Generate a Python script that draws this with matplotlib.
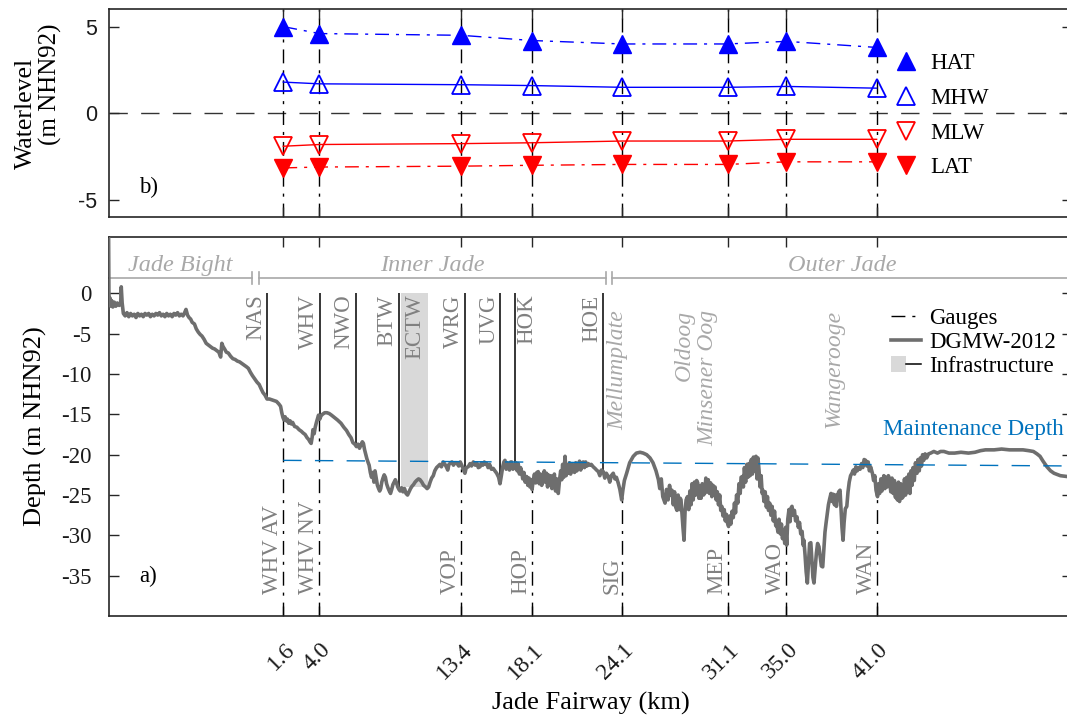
import matplotlib
matplotlib.use("Agg")
import matplotlib.pyplot as plt
import matplotlib.transforms as mtrans
from matplotlib.lines import Line2D
from matplotlib.patches import Patch
from matplotlib.legend_handler import HandlerTuple

plt.rcParams['font.family'] = ['Liberation Serif', 'DejaVu Serif']

# ---------------- data ----------------
gauge_km = [1.6, 4.0, 13.4, 18.1, 24.1, 31.1, 35.0, 41.0]
gauge_tick_labels = ["1.6", "4.0", "13.4", "18.1", "24.1", "31.1", "35.0", "41.0"]
gauge_names = ["WHV AV", "WHV NV", "VOP", "HOP", "SIG", "MEP", "WAO", "WAN"]
gauge_bed = [-15.5, -15.4, -21.5, -24.0, -25.4, -28.5, -30.8, -25.0]

hat = [5.0, 4.6, 4.5, 4.2, 4.0, 4.0, 4.15, 3.8]
mhw = [1.8, 1.7, 1.65, 1.6, 1.5, 1.5, 1.55, 1.45]
mlw = [-1.9, -1.8, -1.75, -1.7, -1.6, -1.6, -1.5, -1.5]
lat = [-3.15, -3.1, -3.05, -3.0, -2.95, -2.95, -2.8, -2.8]
tide_names = ["HAT", "MHW", "MLW", "LAT"]

infra_names = ["NAS", "WHV", "NWO", "BTW", "WRG", "UVG", "HOK", "HOE"]
infra_km = [0.51, 4.05, 6.41, 9.27, 13.67, 16.0, 16.99, 22.85]
infra_bed = [-13.0, -15.2, -19.0, -24.0, -21.7, -23.6, -21.5, -22.2]
ectw_name = "ECTW"
ectw_km = [9.43, 11.21]
ectw_bed = -24.0

maint_km = [1.6, 54.0]
maint_depth = [-20.7, -21.4]

region_names = ["Jade Bight", "Inner Jade", "Outer Jade"]
region_start = [-10.0, 0.0, 23.4]
region_end = [-0.45, 23.0, 54.0]
region_level = 1.9

island_names = ["Mellumplate", "Oldoog\nMinsener Oog", "Wangerooge"]
island_km = [23.82, 29.0, 38.16]

# DGMW-2012 depth profile along the fairway (km, m NHN92)
profile = [
    (-10.00, 7.0), (-9.98, 0.2), (-9.95, -1.5), (-9.90, -0.6), (-9.85, -1.6), (-9.80, -0.9),
    (-9.72, -1.7), (-9.62, -1.1), (-9.52, -1.6), (-9.42, -1.2), (-9.30, -1.5), (-9.20, -1.3),
    (-9.16, 0.8), (-9.10, -1.2), (-9.02, -2.5), (-8.90, -2.8), (-8.78, -2.4), (-8.66, -2.9),
    (-8.54, -2.5), (-8.42, -2.8), (-8.30, -2.6), (-8.18, -3.0), (-8.06, -2.5), (-7.94, -2.8),
    (-7.82, -2.6), (-7.70, -2.9), (-7.58, -2.5), (-7.46, -2.7), (-7.34, -2.5), (-7.22, -2.9),
    (-7.10, -2.6), (-6.98, -2.8), (-6.86, -2.5), (-6.74, -2.7), (-6.62, -2.4), (-6.50, -2.8),
    (-6.38, -2.6), (-6.26, -2.9), (-6.14, -2.5), (-6.02, -2.8), (-5.90, -2.6), (-5.78, -2.9),
    (-5.66, -2.5), (-5.54, -2.7), (-5.42, -2.4), (-5.30, -2.8), (-5.18, -2.6), (-5.06, -2.8),
    (-4.95, -2.4), (-4.86, -2.0), (-4.76, -2.7), (-4.66, -3.0), (-4.55, -3.2), (-4.45, -3.6),
    (-4.30, -3.8), (-4.18, -4.4), (-4.05, -4.8), (-3.92, -5.1), (-3.80, -5.3), (-3.66, -5.7),
    (-3.52, -6.2), (-3.38, -6.4), (-3.24, -6.6), (-3.10, -6.8), (-2.96, -6.9), (-2.82, -7.1),
    (-2.68, -7.3), (-2.56, -7.9), (-2.48, -6.2), (-2.40, -6.6), (-2.30, -6.9), (-2.18, -7.3),
    (-2.05, -7.4), (-1.90, -7.8), (-1.75, -8.1), (-1.60, -8.2), (-1.45, -8.4), (-1.30, -8.5),
    (-1.15, -8.7), (-1.00, -8.9), (-0.85, -9.1), (-0.72, -9.3), (-0.58, -9.8), (-0.45, -10.2),
    (-0.30, -10.6), (-0.15, -11.0), (0.00, -11.3), (0.12, -11.8), (0.25, -12.3), (0.38, -12.6),
    (0.52, -13.1), (0.68, -13.1), (0.84, -13.2), (1.00, -13.3), (1.15, -13.4), (1.30, -13.7),
    (1.42, -14.0), (1.50, -14.8), (1.58, -15.4), (1.65, -15.7), (1.72, -15.3), (1.80, -15.8),
    (1.88, -15.6), (1.96, -16.1), (2.05, -15.8), (2.14, -16.2), (2.22, -16.0), (2.35, -16.5),
    (2.50, -16.6), (2.65, -16.9), (2.80, -17.1), (2.91, -17.3), (3.05, -17.5), (3.18, -17.9),
    (3.28, -18.1), (3.37, -18.4), (3.45, -18.6), (3.52, -17.8), (3.57, -16.9), (3.65, -17.4),
    (3.72, -16.6), (3.80, -16.0), (3.88, -15.5), (3.94, -15.1), (4.02, -15.6), (4.10, -15.2),
    (4.20, -15.0), (4.35, -14.8), (4.50, -14.8), (4.65, -14.9), (4.80, -15.1), (5.00, -15.4),
    (5.20, -15.7), (5.43, -16.1), (5.62, -16.6), (5.80, -17.0), (5.95, -17.5), (6.10, -17.9),
    (6.22, -18.5), (6.35, -18.7), (6.46, -19.0), (6.56, -18.7), (6.66, -19.2), (6.75, -18.8),
    (6.85, -18.4), (6.92, -18.6), (7.00, -19.4), (7.08, -20.0), (7.15, -20.5), (7.22, -20.9),
    (7.30, -21.3), (7.38, -22.2), (7.46, -22.8), (7.54, -22.2), (7.62, -23.4), (7.69, -22.0),
    (7.77, -22.9), (7.85, -23.8), (7.93, -24.2), (8.00, -24.5), (8.07, -24.2), (8.14, -23.4),
    (8.22, -22.9), (8.30, -22.5), (8.38, -22.8), (8.46, -23.6), (8.55, -24.1), (8.64, -24.5),
    (8.72, -24.8), (8.80, -24.3), (8.88, -23.7), (8.96, -23.4), (9.04, -23.1), (9.12, -23.5),
    (9.20, -24.0), (9.28, -24.3), (9.36, -24.5), (9.45, -24.1), (9.55, -24.6), (9.65, -24.2),
    (9.75, -24.8), (9.85, -25.0), (9.95, -24.6), (10.05, -24.2), (10.15, -23.9), (10.25, -23.7),
    (10.35, -23.4), (10.45, -23.2), (10.58, -23.0), (10.68, -23.1), (10.80, -23.4), (10.92, -23.8),
    (11.05, -24.0), (11.15, -24.2), (11.25, -24.0), (11.35, -23.4), (11.45, -22.9), (11.56, -22.6),
    (11.66, -22.0), (11.78, -21.6), (11.89, -21.4), (12.00, -21.2), (12.10, -21.5), (12.22, -20.9),
    (12.34, -21.2), (12.45, -21.6), (12.52, -21.9), (12.60, -21.2), (12.67, -21.1), (12.80, -20.9),
    (12.90, -21.3), (13.00, -21.0), (13.11, -21.0), (13.25, -21.4), (13.35, -20.9), (13.45, -21.3),
    (13.55, -21.8), (13.66, -22.3), (13.75, -21.6), (13.88, -21.5), (14.00, -21.1), (14.10, -21.4),
    (14.22, -20.9), (14.35, -21.3), (14.45, -21.0), (14.55, -21.6), (14.66, -21.5), (14.75, -21.0),
    (14.85, -21.3), (14.95, -20.9), (15.05, -21.2), (15.11, -21.1), (15.20, -21.6), (15.30, -21.2),
    (15.42, -21.8), (15.54, -21.7), (15.65, -22.0), (15.77, -22.3), (15.90, -22.8), (15.99, -23.6),
    (16.08, -22.6), (16.17, -21.5), (16.25, -20.9), (16.32, -20.7), (16.40, -21.8), (16.47, -21.0),
    (16.54, -21.5), (16.62, -21.9), (16.70, -20.9), (16.77, -20.9), (16.85, -21.8), (16.92, -21.3),
    (16.99, -21.7), (17.06, -21.0), (17.13, -22.0), (17.20, -21.1), (17.28, -22.4), (17.36, -21.6),
    (17.43, -22.1), (17.50, -23.0), (17.58, -22.2), (17.66, -23.4), (17.76, -22.7), (17.84, -23.8),
    (17.92, -22.9), (17.98, -24.0), (18.05, -23.1), (18.12, -24.3), (18.20, -23.1), (18.28, -22.4),
    (18.36, -23.5), (18.44, -22.2), (18.53, -22.1), (18.60, -23.6), (18.68, -22.4), (18.76, -23.8),
    (18.86, -23.1), (18.93, -22.0), (19.00, -23.4), (19.08, -22.3), (19.15, -24.0), (19.20, -22.5),
    (19.28, -23.8), (19.36, -22.6), (19.44, -24.2), (19.53, -23.5), (19.60, -22.4), (19.68, -24.5),
    (19.76, -23.0), (19.86, -24.8), (19.94, -23.2), (20.02, -22.0), (20.09, -23.1), (20.15, -21.2),
    (20.22, -22.8), (20.31, -20.2), (20.38, -22.6), (20.45, -21.4), (20.52, -22.3), (20.60, -21.0),
    (20.68, -22.4), (20.76, -21.2), (20.86, -21.3), (20.94, -22.2), (21.02, -21.0), (21.10, -22.0),
    (21.19, -21.5), (21.27, -20.8), (21.35, -21.9), (21.43, -21.0), (21.52, -20.9), (21.60, -21.6),
    (21.68, -20.9), (21.77, -21.4), (21.85, -21.1), (21.95, -21.3), (22.05, -21.2), (22.18, -21.5),
    (22.30, -21.7), (22.40, -21.9), (22.52, -22.1), (22.62, -22.6), (22.72, -21.9), (22.85, -22.1),
    (22.95, -22.9), (23.05, -22.3), (23.18, -22.7), (23.28, -23.4), (23.38, -22.6), (23.51, -22.3),
    (23.62, -23.0), (23.72, -22.8), (23.84, -23.5), (23.95, -24.3), (24.07, -25.6), (24.15, -24.4),
    (24.25, -23.2), (24.40, -22.3), (24.60, -21.0), (24.84, -20.2), (25.05, -19.8), (25.29, -19.7),
    (25.50, -19.8), (25.73, -20.0), (25.95, -20.4), (26.15, -21.0), (26.35, -22.0), (26.51, -23.1),
    (26.60, -24.2), (26.70, -23.0), (26.80, -25.2), (26.95, -26.0), (27.05, -24.3), (27.15, -25.6),
    (27.25, -23.8), (27.33, -25.0), (27.41, -24.4), (27.50, -26.2), (27.58, -24.6), (27.66, -26.5),
    (27.74, -26.9), (27.82, -25.0), (27.90, -26.8), (27.96, -25.4), (28.01, -25.6), (28.08, -27.5),
    (28.14, -29.0), (28.21, -30.6), (28.28, -27.0), (28.35, -25.6), (28.44, -25.2), (28.52, -26.8),
    (28.60, -24.5), (28.68, -26.2), (28.74, -23.6), (28.82, -25.6), (28.90, -23.4), (28.98, -25.0),
    (29.05, -23.2), (29.12, -23.5), (29.20, -25.4), (29.28, -23.9), (29.34, -25.4), (29.42, -23.6),
    (29.50, -25.0), (29.58, -24.8), (29.66, -22.9), (29.74, -24.6), (29.82, -23.1), (29.90, -24.8),
    (29.98, -23.5), (30.06, -25.2), (30.14, -23.8), (30.20, -24.9), (30.27, -24.0), (30.35, -25.6),
    (30.42, -24.6), (30.50, -26.2), (30.58, -25.0), (30.65, -26.9), (30.72, -26.4), (30.80, -27.6),
    (30.88, -26.8), (30.95, -28.2), (31.03, -27.4), (31.10, -28.5), (31.17, -28.9), (31.25, -27.6),
    (31.32, -28.6), (31.40, -27.0), (31.48, -27.8), (31.56, -26.0), (31.63, -27.2), (31.70, -25.0),
    (31.78, -26.0), (31.86, -23.6), (31.94, -24.8), (32.00, -22.8), (32.08, -22.7), (32.15, -24.0),
    (32.22, -21.6), (32.30, -23.4), (32.38, -21.2), (32.45, -22.8), (32.52, -21.1), (32.60, -22.6),
    (32.68, -20.6), (32.75, -22.4), (32.82, -20.3), (32.90, -22.0), (32.99, -20.2), (33.06, -23.0),
    (33.12, -20.4), (33.19, -21.9), (33.26, -24.0), (33.33, -22.6), (33.40, -24.8), (33.45, -24.4),
    (33.52, -25.8), (33.60, -24.6), (33.68, -26.5), (33.75, -25.2), (33.82, -26.9), (33.90, -26.0),
    (33.98, -27.5), (34.06, -26.4), (34.14, -28.2), (34.22, -27.0), (34.30, -28.8), (34.36, -28.5),
    (34.45, -29.6), (34.52, -28.0), (34.60, -29.8), (34.68, -28.6), (34.75, -30.4), (34.81, -29.3),
    (34.90, -31.0), (34.96, -29.0), (35.03, -31.2), (35.10, -28.0), (35.18, -26.8), (35.25, -28.3),
    (35.32, -26.6), (35.38, -26.4), (35.46, -27.5), (35.54, -26.9), (35.62, -28.2), (35.71, -27.7),
    (35.80, -29.0), (35.88, -28.4), (35.96, -29.8), (36.05, -29.5), (36.12, -31.2), (36.17, -30.6),
    (36.25, -32.5), (36.32, -34.5), (36.40, -35.9), (36.48, -33.2), (36.55, -31.0), (36.63, -30.9),
    (36.70, -33.0), (36.77, -35.2), (36.84, -35.9), (36.92, -34.0), (37.00, -32.2), (37.08, -31.0),
    (37.17, -31.4), (37.25, -32.6), (37.33, -33.8), (37.42, -33.9), (37.50, -31.5), (37.57, -29.6),
    (37.64, -28.5), (37.72, -27.4), (37.80, -26.2), (37.88, -25.5), (37.97, -24.8), (38.05, -25.8),
    (38.12, -24.9), (38.20, -26.2), (38.27, -25.0), (38.33, -26.4), (38.40, -25.2), (38.48, -24.6),
    (38.57, -24.4), (38.64, -26.8), (38.70, -29.0), (38.77, -30.6), (38.84, -28.4), (38.92, -26.7),
    (39.02, -26.4), (39.10, -24.6), (39.18, -23.4), (39.27, -22.6), (39.36, -22.3), (39.45, -21.9),
    (39.53, -22.4), (39.62, -21.5), (39.71, -22.0), (39.81, -21.6), (39.90, -21.8), (40.00, -21.1),
    (40.08, -21.6), (40.17, -20.6), (40.27, -20.7), (40.35, -21.4), (40.44, -20.9), (40.52, -22.0),
    (40.60, -21.5), (40.72, -22.3), (40.80, -23.2), (40.88, -22.6), (40.96, -24.4), (41.06, -25.2),
    (41.13, -23.6), (41.20, -24.8), (41.28, -23.0), (41.35, -24.5), (41.40, -23.5), (41.48, -22.6),
    (41.55, -24.2), (41.62, -22.8), (41.70, -24.0), (41.78, -22.6), (41.86, -23.1), (41.94, -24.6),
    (42.02, -22.9), (42.10, -24.8), (42.18, -23.2), (42.25, -25.3), (42.31, -24.0), (42.38, -25.6),
    (42.45, -23.4), (42.52, -25.8), (42.60, -23.6), (42.68, -25.4), (42.77, -25.2), (42.85, -23.0),
    (42.92, -25.0), (43.00, -22.8), (43.08, -24.6), (43.14, -22.4), (43.21, -24.8), (43.28, -22.0),
    (43.35, -23.8), (43.42, -21.6), (43.50, -23.2), (43.58, -21.0), (43.68, -22.3), (43.75, -20.6),
    (43.83, -22.0), (43.90, -20.4), (43.98, -21.4), (44.05, -20.0), (44.13, -20.7), (44.22, -19.9),
    (44.32, -20.4), (44.45, -19.9), (44.59, -19.8), (44.80, -19.6), (45.04, -19.8), (45.25, -19.6),
    (45.47, -19.6), (45.80, -19.8), (46.18, -19.8), (46.60, -19.7), (47.10, -19.8), (47.53, -19.7),
    (47.90, -19.5), (48.23, -19.4), (48.80, -19.4), (49.30, -19.3), (49.82, -19.4), (50.30, -19.4),
    (50.72, -19.4), (51.10, -19.5), (51.41, -19.6), (51.65, -19.9), (51.85, -20.2), (52.05, -20.8),
    (52.31, -21.5), (52.55, -22.0), (52.78, -22.3), (53.20, -22.6), (53.64, -22.7), (54.00, -22.8),
]
profile_km = [p[0] for p in profile]
profile_m = [p[1] for p in profile]

# ---------------- style ----------------
W, H = 1067, 718
SPINE = '#262626'
DASH = (0, (13.2, 9.6))
DASHDOT = (0, (10, 5, 2.2, 5))
GRAY_CURVE = '#6e6e6e'
LABEL_GRAY = '#808080'
LIGHT_GRAY = '#a8a8a8'
MBLUE = '#0072BD'

fig = plt.figure(figsize=(W / 100, H / 100), dpi=100)

def fig_rect(x0, y0, x1, y1):
    return [x0 / W, 1 - y1 / H, (x1 - x0) / W, (y1 - y0) / H]

ax_top = fig.add_axes(fig_rect(108.6, 9.3, 1072.4, 217.3))
ax_bot = fig.add_axes(fig_rect(108.6, 236.8, 1072.4, 616.1))

for ax in (ax_top, ax_bot):
    ax.set_xlim(-10, 54)
    for s in ax.spines.values():
        s.set_color(SPINE)
        s.set_linewidth(1.2)
    ax.tick_params(direction='in', length=7, width=1.0, color=SPINE,
                   top=True, right=True, labelcolor='#1a1a1a')
    ax.set_xticks(gauge_km)

# ---------------- top panel ----------------
ax_top.set_ylim(-6, 6)
ax_top.set_yticks([-5, 0, 5])
ax_top.set_yticklabels(['-5', '0', '5'], fontfamily='Liberation Sans', fontsize=15.5)
ax_top.tick_params(axis='y', pad=8)
ax_top.tick_params(axis='x', labelbottom=False)

ax_top.axhline(0, color='#333333', lw=1.0, ls=DASH, zorder=1)
for g in gauge_km:
    ax_top.axvline(g, color='black', lw=1.0, ls=DASHDOT, zorder=1)

ms = 13
ax_top.plot(gauge_km, hat, color='blue', lw=1.0, ls=DASHDOT, marker='^', ms=ms,
            mfc='blue', mec='blue', zorder=3)
ax_top.plot(gauge_km, mhw, color='blue', lw=1.0, ls='-', marker='^', ms=ms,
            mfc='none', mec='blue', mew=1.3, zorder=3)
ax_top.plot(gauge_km, mlw, color='red', lw=1.0, ls='-', marker='v', ms=ms,
            mfc='none', mec='red', mew=1.3, zorder=3)
ax_top.plot(gauge_km, lat, color='red', lw=1.0, ls=DASHDOT, marker='v', ms=ms,
            mfc='red', mec='red', zorder=3)

tide_handles = [
    Line2D([], [], ls='none', marker='^', ms=ms, mfc='blue', mec='blue'),
    Line2D([], [], ls='none', marker='^', ms=ms, mfc='none', mec='blue', mew=1.3),
    Line2D([], [], ls='none', marker='v', ms=ms, mfc='none', mec='red', mew=1.3),
    Line2D([], [], ls='none', marker='v', ms=ms, mfc='red', mec='red'),
]
ax_top.legend(tide_handles, tide_names, loc='center left',
              bbox_to_anchor=(894.6 / W, 1 - 115.7 / H), bbox_transform=fig.transFigure,
              frameon=False, fontsize=16.5, handlelength=1.0, handletextpad=0.55,
              labelspacing=0.6, borderpad=0, borderaxespad=0)

ax_top.set_ylabel("Waterlevel", fontsize=18.5)
ax_top.yaxis.set_label_coords(-0.0743, 0.5)
ax_top.text(-0.0484, 0.64, "(m NHN92)", transform=ax_top.transAxes, rotation=90,
            ha='right', va='center', fontsize=18)
ax_top.text(-7.95, -4.3, "b)", ha='left', va='center', fontsize=16.5)

# ---------------- bottom panel ----------------
ax_bot.set_ylim(-40, 7)
yt = [-35, -30, -25, -20, -15, -10, -5, 0]
ax_bot.set_yticks(yt)
ax_bot.set_yticklabels([str(v) for v in yt], fontsize=16.5)
ax_bot.tick_params(axis='y', pad=12.5)
ax_bot.set_xticklabels(gauge_tick_labels, fontsize=17, rotation=45, ha='right',
                       va='top', rotation_mode='anchor')
ax_bot.tick_params(axis='x', pad=0)
off = mtrans.ScaledTranslation(1 / 100, -23 / 100, fig.dpi_scale_trans)
for lab in ax_bot.get_xticklabels():
    lab.set_transform(lab.get_transform() + off)

# ECTW shading
ax_bot.fill_between(ectw_km, ectw_bed, 0, color='#d9d9d9', lw=0, zorder=1)
ax_bot.text(sum(ectw_km) / 2, -0.15, ectw_name, rotation=90, ha='center', va='top',
            fontsize=16.5, color=LABEL_GRAY, zorder=2)

# infrastructure lines + labels
ax_bot.vlines(infra_km, infra_bed, 0, colors='black', lw=1.1, zorder=2)
px = mtrans.ScaledTranslation(1 / 100, 0, fig.dpi_scale_trans)
for name, k in zip(infra_names, infra_km):
    if name == "HOK":
        ax_bot.text(k, -0.15, name, rotation=90, ha='left', va='top', fontsize=16.5,
                    color=LABEL_GRAY, transform=ax_bot.transData + px)
    else:
        ax_bot.text(k, -0.15, name, rotation=90, ha='right', va='top', fontsize=16.5,
                    color=LABEL_GRAY, transform=ax_bot.transData - px)

# gauges
ax_bot.vlines(gauge_km, -40, gauge_bed, colors='black', lw=1.0,
              linestyles=[DASHDOT], zorder=2)
for name, k in zip(gauge_names, gauge_km):
    ax_bot.text(k, -37.2, name, rotation=90, ha='right', va='bottom', fontsize=16.5,
                color=LABEL_GRAY)

# bathymetry
ax_bot.plot(profile_km, profile_m, color=GRAY_CURVE, lw=2.6, zorder=3,
            solid_joinstyle='round')

# maintenance depth
ax_bot.plot(maint_km, maint_depth, color=MBLUE, lw=1.0, ls=DASH, zorder=4)
ax_bot.text(41.4, -17.56, "Maintenance Depth", color=MBLUE, fontsize=16.6,
            ha='left', va='baseline')

# regions
for name, a, b in zip(region_names, region_start, region_end):
    ax_bot.plot([a, b], [region_level, region_level], color=LIGHT_GRAY, lw=1.2,
                clip_on=False, zorder=2)
    ax_bot.text((a + b) / 2, 3.5, name, ha='center', va='center', fontsize=17.5,
                fontstyle='italic', color=LIGHT_GRAY)
for k in (region_end[0], region_start[1], region_end[1], region_start[2]):
    ax_bot.plot([k, k], [region_level - 0.8, region_level + 0.8], color=LIGHT_GRAY,
                lw=1.2, zorder=2)

# islands / sands
for name, k in zip(island_names, island_km):
    ax_bot.text(k, -2.1, name, rotation=90, ha='center', va='top', fontsize=17,
                fontstyle='italic', color=LIGHT_GRAY, multialignment='right',
                linespacing=1.15)

ax_bot.text(-7.95, -35.1, "a)", ha='left', va='center', fontsize=16.5)

ax_bot.set_ylabel("Depth (m NHN92)", fontsize=19)
ax_bot.yaxis.set_label_coords(-0.0639, 0.5)
ax_bot.set_xlabel("Jade Fairway (km)", fontsize=19)
ax_bot.xaxis.set_label_coords(0.5, -0.2)

# bottom legend
h_g = Line2D([], [], color='black', lw=1.0, ls=DASHDOT)
h_d = Line2D([], [], color=GRAY_CURVE, lw=2.6)
h_i = (Patch(facecolor='#d9d9d9', edgecolor='none'), Line2D([], [], color='black', lw=1.1))
ax_bot.legend([h_g, h_d, h_i], ["Gauges", "DGMW-2012", "Infrastructure"],
              handler_map={tuple: HandlerTuple(ndivide=None, pad=0)},
              loc='center left', bbox_to_anchor=(890.7 / W, 1 - 342.4 / H),
              bbox_transform=fig.transFigure, frameon=False, fontsize=16.5,
              handlelength=1.33, handletextpad=0.36, labelspacing=0.14,
              borderpad=0, borderaxespad=0)

fig.savefig("out.png", dpi=100)
